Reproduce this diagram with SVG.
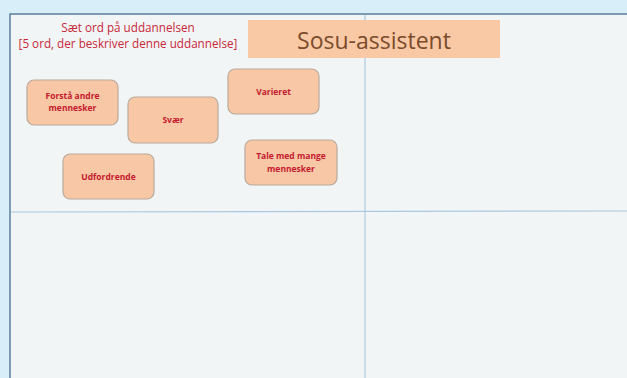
<svg xmlns="http://www.w3.org/2000/svg" width="627" height="378" viewBox="0 0 627 378">
<style>
.card{fill:#f8c7a5;stroke:#b9aa9c;stroke-width:1.2}
.ct{font-family:"Open Sans","Liberation Sans",sans-serif;font-size:8.5px;font-weight:bold;fill:#c41a2e;text-anchor:middle}
.rt{font-family:"Open Sans","Liberation Sans",sans-serif;font-size:11.7px;fill:#c8283a;text-anchor:middle}
</style>
<rect width="627" height="378" fill="#d8eef9"/>
<rect x="10" y="14" width="630" height="380" fill="#f2f5f6" stroke="#5b7f9c" stroke-width="1.5"/>
<g id="grid" stroke="#a9c9e0" stroke-width="1.2">
<line x1="365" y1="15" x2="365" y2="378"/>
<line x1="11" y1="212" x2="627" y2="211"/>
</g>
<g id="heading">
<text class="rt" x="128" y="32">Sæt ord på uddannelsen</text>
<text class="rt" x="128" y="48">[5 ord, der beskriver denne uddannelse]</text>
</g>
<g id="title">
<rect x="248" y="20" width="252" height="38" fill="#f9c9a6"/>
<text x="374" y="49" font-family="Open Sans, Liberation Sans, sans-serif" font-size="23" fill="#7b4b2b" text-anchor="middle">Sosu-assistent</text>
</g>
<g id="n1"><rect class="card" x="27" y="80" width="91" height="45" rx="7"/><text class="ct" x="72.5" y="99">Forstå andre</text><text class="ct" x="72.5" y="110.5">mennesker</text></g>
<g id="n2"><rect class="card" x="128" y="97" width="90" height="46" rx="7"/><text class="ct" x="173" y="123">Svær</text></g>
<g id="n3"><rect class="card" x="228" y="69" width="91" height="45" rx="7"/><text class="ct" x="273.5" y="95">Varieret</text></g>
<g id="n4"><rect class="card" x="63" y="154" width="91" height="45" rx="7"/><text class="ct" x="108.5" y="180">Udfordrende</text></g>
<g id="n5"><rect class="card" x="245" y="140" width="92" height="45" rx="7"/><text class="ct" x="291" y="159">Tale med mange</text><text class="ct" x="291" y="171.5">mennesker</text></g>
<g id="connectors"></g>
</svg>
